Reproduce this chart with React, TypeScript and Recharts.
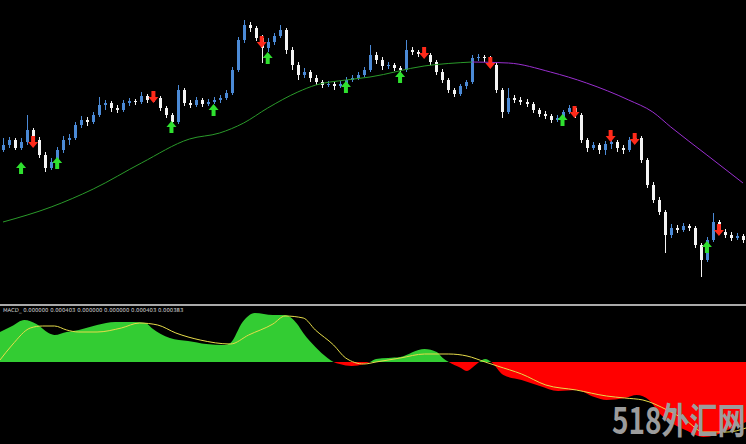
import React from "react";
import { Bar, ComposedChart, Line, Area, XAxis, YAxis } from "recharts";

// price candles: [open, high, low, close] (points)
const candles: number[][] = [
  [150, 162, 148, 155], [155, 163, 152, 160], [160, 162, 150, 152], [152, 162, 150, 158],
  [158, 185, 155, 170], [170, 172, 156, 160], [160, 163, 142, 145], [145, 148, 128, 132],
  [132, 142, 130, 138], [138, 153, 136, 150], [150, 164, 147, 160], [160, 166, 155, 162],
  [162, 178, 160, 175], [175, 184, 172, 180], [180, 183, 174, 178], [178, 188, 176, 185],
  [185, 203, 183, 195], [195, 200, 190, 197], [197, 199, 188, 192], [192, 195, 187, 190],
  [190, 200, 188, 197], [197, 202, 194, 199], [199, 201, 195, 198], [198, 208, 196, 204],
  [204, 206, 197, 200], [200, 205, 198, 202], [202, 204, 189, 192], [192, 194, 182, 185],
  [185, 187, 172, 178], [178, 215, 176, 210], [210, 212, 194, 197], [197, 200, 192, 195],
  [195, 203, 193, 200], [200, 202, 193, 196], [196, 201, 194, 198], [198, 203, 196, 200],
  [200, 205, 197, 202], [202, 210, 200, 207], [207, 233, 205, 230], [230, 263, 228, 260],
  [260, 280, 257, 275], [275, 278, 268, 272], [272, 274, 259, 262], [262, 265, 237, 252],
  [252, 262, 248, 258], [258, 267, 255, 264], [264, 275, 262, 270], [270, 272, 246, 250],
  [250, 253, 230, 235], [235, 238, 220, 225], [225, 232, 222, 228], [228, 230, 218, 222],
  [222, 225, 215, 218], [218, 220, 212, 215], [215, 219, 213, 216], [216, 218, 210, 214],
  [214, 219, 212, 216], [216, 223, 214, 220], [220, 225, 218, 222], [222, 228, 220, 225],
  [225, 233, 223, 230], [230, 255, 228, 245], [245, 248, 236, 240], [240, 243, 230, 234],
  [234, 238, 231, 235], [235, 237, 229, 232], [232, 234, 224, 230], [230, 260, 228, 250],
  [250, 253, 245, 248], [248, 250, 243, 246], [246, 249, 243, 245], [245, 247, 235, 238],
  [238, 240, 225, 228], [228, 231, 217, 220], [220, 222, 207, 210], [210, 212, 203, 206],
  [206, 216, 204, 214], [214, 220, 211, 218], [218, 245, 216, 242], [242, 246, 239, 243],
  [243, 245, 238, 242], [242, 244, 232, 235], [235, 237, 207, 210], [210, 212, 182, 188],
  [188, 212, 186, 202], [202, 205, 197, 200], [200, 203, 195, 198], [198, 201, 193, 196],
  [196, 198, 187, 190], [190, 192, 183, 186], [186, 189, 181, 184], [184, 186, 177, 180],
  [180, 185, 178, 182], [182, 190, 180, 188], [188, 195, 186, 192], [192, 194, 182, 185],
  [185, 187, 157, 160], [160, 162, 148, 152], [152, 158, 150, 155], [155, 157, 146, 150],
  [150, 159, 145, 156], [156, 160, 151, 158], [158, 160, 148, 152], [152, 155, 146, 150],
  [150, 163, 148, 160], [160, 165, 157, 162], [162, 164, 137, 140], [140, 142, 112, 115],
  [115, 118, 97, 100], [100, 103, 85, 88], [88, 90, 47, 65], [65, 76, 62, 72],
  [72, 75, 67, 70], [70, 77, 68, 74], [74, 76, 69, 72], [72, 74, 52, 55],
  [55, 57, 23, 40], [40, 63, 38, 60], [60, 87, 58, 78], [78, 80, 65, 68],
  [68, 71, 62, 65], [65, 68, 59, 62], [62, 67, 60, 64], [64, 66, 57, 60],
];

// moving average: [bar index, value]
const maPoints: number[][] = [
  [0, 78], [8, 93], [15, 111], [23, 137], [31, 161], [36, 167], [40, 177], [44, 192],
  [49, 208], [52, 215], [57, 220], [61, 223], [70, 234], [78, 238], [84, 237], [91, 228],
  [97, 217], [104, 200], [108, 188], [111, 173], [117, 145], [123, 117],
];
const MA_TURN = 78;

// signal arrows: [bar index, level]
const buyArrows: number[][] = [
  [3, 132], [9, 137], [28, 173], [35, 190], [44, 242], [57, 213], [66, 223], [93, 180], [117, 53],
];
const sellArrows: number[][] = [
  [5, 158], [25, 203], [43, 258], [70, 247], [81, 237], [95, 188], [101, 164], [105, 161], [119, 70],
];

// MACD histogram and signal: [bar index, value]
const macdPoints: number[][] = [
  [0, 0.0003], [2, 0.00036], [4, 0.00042], [6, 0.00038], [8, 0.00029], [9, 0.00027],
  [11, 0.0003], [13, 0.00032], [16, 0.00037], [19, 0.0004], [22, 0.0004], [24, 0.00039],
  [25, 0.00034], [28, 0.00024], [31, 0.00021], [34, 0.00018], [37, 0.00017], [38, 0.00019],
  [40, 0.0004], [42, 0.00049], [45, 0.00047], [47, 0.00047], [49, 0.00038], [50, 0.00029],
  [52, 0.00015], [54, 0.00004], [55, 0], [56, -0.00002], [58, -0.00004], [60, -0.00002],
  [61, 0], [62, 0.00003], [64, 0.00004], [66, 0.00005], [67, 0.00007], [69, 0.00012],
  [70, 0.00013], [72, 0.0001], [73, 0.00004], [74, 0], [76, -0.00006], [77, -0.00009],
  [78, -0.00005], [79, 0], [80, 0.00003], [81, 0], [83, -0.00013], [86, -0.00018],
  [89, -0.00024], [92, -0.00029], [95, -0.00028], [98, -0.00035], [100, -0.00038],
  [103, -0.00036], [105, -0.00033], [107, -0.00038], [109, -0.00053], [110, -0.00058],
  [113, -0.00068], [116, -0.00075], [118, -0.00073], [120, -0.00068], [123, -0.0006],
];
const signalPoints: number[][] = [
  [0, 0.00002], [2, 0.00017], [5, 0.00034], [7, 0.00036], [9, 0.00036], [11, 0.00032],
  [13, 0.0003], [16, 0.0003], [20, 0.00034], [23, 0.00039], [26, 0.00037], [29, 0.00029],
  [33, 0.00022], [38, 0.00018], [41, 0.00027], [45, 0.00038], [47, 0.00046], [50, 0.00044],
  [52, 0.00032], [55, 0.00017], [57, 0.00004], [60, -0.00002], [62, 0], [66, 0.00004],
  [70, 0.00008], [74, 0.00008], [77, 0.00006], [80, 0], [82, -0.00004], [86, -0.00012],
  [90, -0.00023], [95, -0.00028], [100, -0.00034], [103, -0.00036], [106, -0.00038],
  [110, -0.00048], [113, -0.00058], [116, -0.0007], [120, -0.0007], [123, -0.00066],
];

const macdLabel = "MACD_ 0.000000 0.000403 0.000000 0.000000 0.000403 0.000383";

const lookup = (pts: number[][], i: number) => {
  const p = pts.find((q) => q[0] === i);
  return p ? p[1] : null;
};

const rows = candles.map((c, i) => {
  const ma = lookup(maPoints, i);
  return {
    i,
    open: c[0],
    high: c[1],
    low: c[2],
    close: c[3],
    maUp: i <= MA_TURN ? ma : null,
    maDown: i >= MA_TURN ? ma : null,
    buy: lookup(buyArrows, i),
    sell: lookup(sellArrows, i),
    macd: lookup(macdPoints, i),
    signal: lookup(signalPoints, i),
  };
});

const macdVals = macdPoints.map((p) => p[1]);
const macdMax = Math.max(0, ...macdVals);
const macdMin = Math.min(0, ...macdVals);
const splitOffset = macdMax / (macdMax - macdMin);

function Candle(props: any) {
  const { x, y, width, height, payload } = props;
  const { open, close, high, low } = payload;
  const top = Math.min(y, y + height);
  const h = Math.abs(height);
  const ratio = h / (high - low || 1);
  const cx = Math.round(x + width / 2);
  const bodyTop = top + (high - Math.max(open, close)) * ratio;
  const bodyH = Math.max(1, Math.abs(open - close) * ratio);
  const color = close >= open ? "#4b8ad6" : "#f4f4f4";
  return (
    <g>
      <line x1={cx + 0.5} x2={cx + 0.5} y1={top} y2={top + h} stroke={color} strokeWidth={1} />
      <rect x={cx - 1} y={bodyTop} width={3} height={bodyH} fill={color} />
    </g>
  );
}

function NoDot(props: any) {
  return <g key={"n" + props.index} />;
}

function BuyArrow(props: any) {
  const { cx, cy, value, index } = props;
  if (value == null || cy == null || isNaN(cy)) return <g key={"b" + index} />;
  const d = `M${cx},${cy - 6} L${cx + 5},${cy} L${cx + 2},${cy} L${cx + 2},${cy + 6} L${cx - 2},${cy + 6} L${cx - 2},${cy} L${cx - 5},${cy} Z`;
  return <path key={"b" + index} d={d} fill="#2fe02f" />;
}

function SellArrow(props: any) {
  const { cx, cy, value, index } = props;
  if (value == null || cy == null || isNaN(cy)) return <g key={"s" + index} />;
  const d = `M${cx},${cy + 6} L${cx + 5},${cy} L${cx + 2},${cy} L${cx + 2},${cy - 6} L${cx - 2},${cy - 6} L${cx - 2},${cy} L${cx - 5},${cy} Z`;
  return <path key={"s" + index} d={d} fill="#ff2a1a" />;
}

export default function App() {
  return (
    <div
      style={{
        position: "fixed",
        left: 0,
        top: 0,
        width: 746,
        height: 444,
        background: "#000",
        overflow: "hidden",
      }}
    >
      <div style={{ position: "absolute", left: 0, top: 0 }}>
        <ComposedChart width={746} height={300} data={rows} margin={{ top: 0, right: 0, left: 0, bottom: 0 }}>
          <XAxis dataKey="i" hide />
          <YAxis hide domain={[0, 300]} />
          <Line type="monotone" dataKey="maUp" stroke="#2a9a2a" strokeWidth={1} dot={NoDot} activeDot={false} connectNulls isAnimationActive={false} />
          <Line type="monotone" dataKey="maDown" stroke="#9a2fd0" strokeWidth={1} dot={NoDot} activeDot={false} connectNulls isAnimationActive={false} />
          <Bar dataKey={(d: any) => [d.low, d.high]} shape={Candle} isAnimationActive={false} />
          <Line dataKey="buy" stroke="none" dot={BuyArrow} activeDot={false} isAnimationActive={false} />
          <Line dataKey="sell" stroke="none" dot={SellArrow} activeDot={false} isAnimationActive={false} />
        </ComposedChart>
      </div>
      <div style={{ position: "absolute", left: 0, top: 304, width: 746, height: 2, background: "#a9a9a9" }} />
      <div style={{ position: "absolute", left: 0, top: 306 }}>
        <ComposedChart width={746} height={138} data={rows} margin={{ top: 0, right: 0, left: 0, bottom: 0 }}>
          <defs>
            <linearGradient id="macdFill" x1="0" y1="0" x2="0" y2="1">
              <stop offset={splitOffset} stopColor="#33cc33" />
              <stop offset={splitOffset} stopColor="#ff0000" />
            </linearGradient>
          </defs>
          <XAxis dataKey="i" hide />
          <YAxis hide domain={[-0.00082, 0.00056]} />
          <Area type="monotone" dataKey="macd" stroke="none" fill="url(#macdFill)" fillOpacity={1} dot={NoDot} activeDot={false} connectNulls isAnimationActive={false} />
          <Line type="monotone" dataKey="signal" stroke="#e6dc4a" strokeWidth={1} dot={NoDot} activeDot={false} connectNulls isAnimationActive={false} />
        </ComposedChart>
      </div>
      <div
        style={{
          position: "absolute",
          left: 3,
          top: 308,
          fontFamily: "'DejaVu Sans', sans-serif",
          fontSize: 5.3,
          color: "#d8d8d8",
          whiteSpace: "nowrap",
          lineHeight: 1,
        }}
      >
        {macdLabel}
      </div>
      <div
        style={{
          position: "absolute",
          left: 612,
          top: 400,
          fontFamily: "'Noto Sans CJK SC', sans-serif",
          fontWeight: 700,
          fontSize: 28,
          color: "#9c9c9c",
          whiteSpace: "nowrap",
          lineHeight: 1,
          transform: "scaleY(1.3)",
          transformOrigin: "top left",
        }}
      >
        518外汇网
      </div>
    </div>
  );
}
